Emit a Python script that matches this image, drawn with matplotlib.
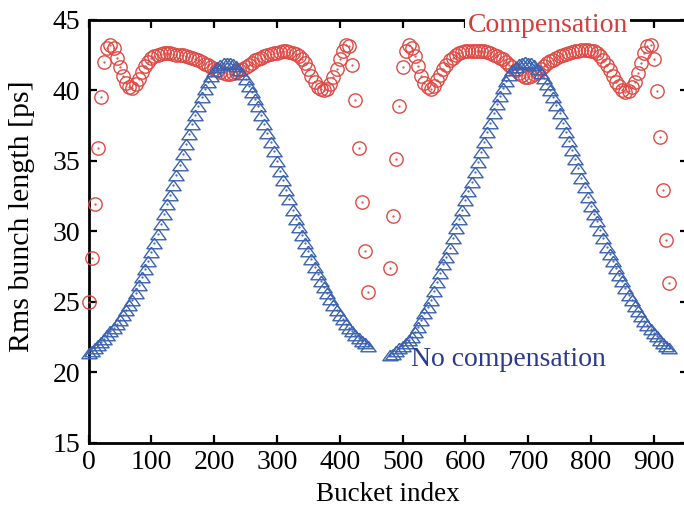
import matplotlib
matplotlib.use("Agg")
import matplotlib.pyplot as plt

plt.rcParams['font.family'] = ['Liberation Serif', 'DejaVu Serif']

# Bucket indices of the two bunch trains (every 5th bucket plotted)
train1_buckets = list(range(0, 450, 5))
train2_buckets = list(range(480, 930, 5))

# Rms bunch length [ps] without compensation (triangles)
nocomp_train1 = [
    21.35, 21.55, 21.75, 21.95, 22.15, 22.4, 22.65, 22.9, 23.15, 23.4,
    23.7, 24.05, 24.4, 24.75, 25.15, 25.65, 26.2, 26.75, 27.3, 27.9,
    28.5, 29.15, 29.8, 30.5, 31.2, 31.9, 32.6, 33.3, 34.0, 34.7,
    35.45, 36.2, 36.9, 37.6, 38.25, 38.9, 39.5, 40.1, 40.6, 41.0,
    41.35, 41.6, 41.8, 41.9, 41.95, 41.95, 41.85, 41.7, 41.45, 41.15,
    40.75, 40.3, 39.85, 39.4, 38.85, 38.25, 37.6, 36.95, 36.3, 35.65,
    35.0, 34.3, 33.6, 32.95, 32.3, 31.5, 30.9, 30.3, 29.75, 29.2,
    28.6, 28.05, 27.5, 26.95, 26.5, 26.05, 25.6, 25.2, 24.8, 24.45,
    24.05, 23.75, 23.45, 23.15, 22.9, 22.65, 22.45, 22.25, 22.05, 21.9,
]
nocomp_train2 = [
    21.25, 21.3, 21.5, 21.7, 21.9, 22.1, 22.3, 22.5, 22.85, 23.25,
    23.7, 24.2, 24.6, 25.1, 25.75, 26.4, 27.05, 27.65, 28.2, 28.8,
    29.5, 30.2, 30.85, 31.5, 32.2, 32.85, 33.5, 34.2, 34.9, 35.6,
    36.3, 37.0, 37.7, 38.35, 39.0, 39.6, 40.15, 40.65, 41.05, 41.4,
    41.65, 41.85, 41.95, 42.0, 41.95, 41.9, 41.75, 41.5, 41.2, 40.85,
    40.45, 40.0, 39.5, 38.95, 38.35, 37.7, 37.05, 36.4, 35.75, 35.1,
    34.45, 33.8, 33.1, 32.45, 31.8, 31.25, 30.7, 30.1, 29.5, 28.9,
    28.4, 27.9, 27.4, 26.9, 26.45, 26.0, 25.5, 25.1, 24.7, 24.35,
    24.0, 23.65, 23.35, 23.05, 22.8, 22.55, 22.3, 22.1, 21.9, 21.75,
]

# Rms bunch length [ps] with compensation (circles)
comp_train1 = [
    25.0, 28.1, 31.9, 35.9, 39.5, 42.0, 43.0, 43.2, 43.0, 42.3,
    41.6, 41.0, 40.5, 40.2, 40.15, 40.4, 40.8, 41.3, 41.7, 42.0,
    42.25, 42.4, 42.5, 42.55, 42.6, 42.6, 42.6, 42.55, 42.5, 42.5,
    42.45, 42.4, 42.35, 42.3, 42.2, 42.1, 42.0, 41.85, 41.75, 41.6,
    41.5, 41.4, 41.3, 41.2, 41.15, 41.15, 41.2, 41.3, 41.4, 41.5,
    41.65, 41.8, 41.95, 42.1, 42.2, 42.3, 42.4, 42.5, 42.55, 42.6,
    42.65, 42.7, 42.75, 42.75, 42.7, 42.65, 42.55, 42.4, 42.2, 41.9,
    41.5, 41.0, 40.6, 40.2, 40.05, 40.0, 40.1, 40.4, 40.9, 41.5,
    42.2, 42.8, 43.2, 43.1, 41.8, 39.3, 35.9, 32.1, 28.6, 25.7,
]
comp_train2 = [
    27.4, 31.1, 35.1, 38.9, 41.6, 42.8, 43.2, 43.0, 42.4, 41.7,
    41.0, 40.5, 40.2, 40.1, 40.3, 40.7, 41.1, 41.5, 41.8, 42.1,
    42.3, 42.5, 42.6, 42.7, 42.75, 42.8, 42.8, 42.8, 42.8, 42.75,
    42.75, 42.7, 42.6, 42.5, 42.4, 42.3, 42.2, 42.0, 41.8, 41.6,
    41.4, 41.2, 41.05, 40.95, 40.9, 41.0, 41.15, 41.3, 41.5, 41.7,
    41.9, 42.05, 42.15, 42.3, 42.4, 42.5, 42.55, 42.6, 42.7, 42.75,
    42.8, 42.85, 42.85, 42.85, 42.8, 42.75, 42.6, 42.4, 42.15, 41.8,
    41.4, 41.0, 40.6, 40.3, 40.0, 39.85, 39.9, 40.2, 40.6, 41.2,
    41.9, 42.6, 43.1, 43.2, 42.2, 39.9, 36.7, 32.9, 29.35, 26.3,
]

x_ticks = [0, 100, 200, 300, 400, 500, 600, 700, 800, 900]
y_ticks = [15, 20, 25, 30, 35, 40, 45]

red = '#e04a44'
blue = '#3a62b0'
navy = '#2b3a8c'

right_px = 688.0
fig = plt.figure(figsize=(6.84, 5.07), dpi=100)
ax = fig.add_axes([88.5 / 684, (507 - 443) / 507, (right_px - 88.5) / 684, (443 - 19.5) / 507])

tri = [(0, 1), (-1.45, -1), (1.45, -1), (0, 1)]

for xs, ys in ((train1_buckets, comp_train1), (train2_buckets, comp_train2)):
    ax.plot(xs, ys, linestyle='none', marker='o', markersize=9.6,
            markerfacecolor='none', markeredgecolor=red, markeredgewidth=1.0,
            clip_on=False, zorder=3)
    ax.plot(xs, ys, linestyle='none', marker='.', markersize=1.2,
            color=red, clip_on=False, zorder=3)
for xs, ys in ((train1_buckets, nocomp_train1), (train2_buckets, nocomp_train2)):
    ax.plot(xs, ys, linestyle='none', marker=tri, markersize=11,
            markerfacecolor='none', markeredgecolor=blue, markeredgewidth=1.0,
            clip_on=False, zorder=4)
    ax.plot(xs, ys, linestyle='none', marker='.', markersize=1.2,
            color=blue, clip_on=False, zorder=4)

ax.set_xlim(0, (right_px - 88.5) / 0.628)
ax.set_ylim(15, 45)
ax.set_xticks(x_ticks)
ax.set_yticks(y_ticks)
ax.tick_params(direction='in', length=5.5, width=1.6, top=True, right=True,
               labelsize=20)
ax.tick_params(axis='x', pad=5)
ax.tick_params(axis='y', pad=6)
for s in ax.spines.values():
    s.set_linewidth(2.0)

ax.set_xlabel('Bucket index', fontsize=19.5, labelpad=5)
ax.set_ylabel('Rms bunch length [ps]', fontsize=21.5)
ax.yaxis.set_label_coords(-0.09, 0.536)

ax.text(731, 44.58, 'Compensation', color='#d33d3a', fontsize=20,
        ha='center', va='center', zorder=10, clip_on=False,
        bbox=dict(facecolor='white', edgecolor='none', pad=1.5))
ax.text(669, 20.95, 'No compensation', color=navy, fontsize=20,
        ha='center', va='center', zorder=10)

fig.savefig('out.png', dpi=100)
